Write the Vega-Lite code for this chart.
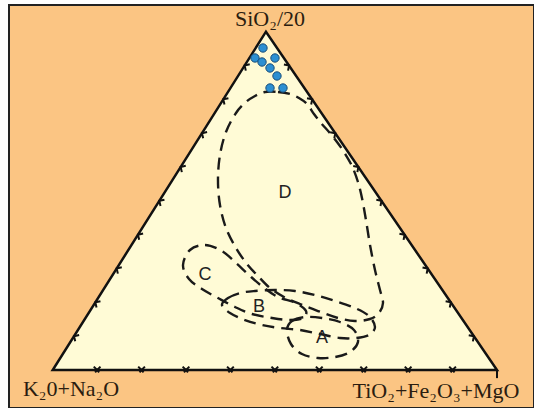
{
  "$schema": "https://vega.github.io/schema/vega-lite/v6.json",
  "width": 534,
  "height": 408,
  "autosize": {"type": "fit", "contains": "padding"},
  "padding": {"left": 9, "top": 5, "right": 0, "bottom": 0},
  "background": "#ffffff",
  "config": {"view": {"fill": "#FBC583", "stroke": "#222222", "strokeWidth": 2}},
  "datasets": {
    "tri": [
      {"x": 0, "y": 0, "i": 0},
      {"x": 100, "y": 0, "i": 1},
      {"x": 48, "y": 100, "i": 2}
    ],
    "corner": [{"x": 100, "y": 0, "yb": -2.4}],
    "fields": [
      {"shape": "D", "i": 0, "x": 47.78, "y": 82.18},
      {"shape": "D", "i": 1, "x": 50.71, "y": 82.18},
      {"shape": "D", "i": 2, "x": 53.41, "y": 81.59},
      {"shape": "D", "i": 3, "x": 55.43, "y": 80.40},
      {"shape": "D", "i": 4, "x": 57.24, "y": 78.63},
      {"shape": "D", "i": 5, "x": 58.81, "y": 75.67},
      {"shape": "D", "i": 6, "x": 60.39, "y": 73.01},
      {"shape": "D", "i": 7, "x": 62.19, "y": 70.35},
      {"shape": "D", "i": 8, "x": 63.99, "y": 67.40},
      {"shape": "D", "i": 9, "x": 65.56, "y": 64.44},
      {"shape": "D", "i": 10, "x": 67.36, "y": 60.30},
      {"shape": "D", "i": 11, "x": 68.71, "y": 55.57},
      {"shape": "D", "i": 12, "x": 69.61, "y": 50.84},
      {"shape": "D", "i": 13, "x": 70.51, "y": 44.34},
      {"shape": "D", "i": 14, "x": 71.42, "y": 36.95},
      {"shape": "D", "i": 15, "x": 72.54, "y": 29.56},
      {"shape": "D", "i": 16, "x": 73.67, "y": 23.65},
      {"shape": "D", "i": 17, "x": 74.34, "y": 19.81},
      {"shape": "D", "i": 18, "x": 73.44, "y": 16.85},
      {"shape": "D", "i": 19, "x": 71.42, "y": 15.08},
      {"shape": "D", "i": 20, "x": 68.04, "y": 14.48},
      {"shape": "D", "i": 21, "x": 64.21, "y": 15.37},
      {"shape": "D", "i": 22, "x": 59.71, "y": 17.44},
      {"shape": "D", "i": 23, "x": 55.66, "y": 19.51},
      {"shape": "D", "i": 24, "x": 52.06, "y": 21.58},
      {"shape": "D", "i": 25, "x": 48.91, "y": 24.24},
      {"shape": "D", "i": 26, "x": 46.21, "y": 27.79},
      {"shape": "D", "i": 27, "x": 43.73, "y": 31.33},
      {"shape": "D", "i": 28, "x": 41.26, "y": 36.06},
      {"shape": "D", "i": 29, "x": 39.00, "y": 41.98},
      {"shape": "D", "i": 30, "x": 37.65, "y": 48.77},
      {"shape": "D", "i": 31, "x": 37.20, "y": 56.16},
      {"shape": "D", "i": 32, "x": 37.65, "y": 63.55},
      {"shape": "D", "i": 33, "x": 39.00, "y": 70.35},
      {"shape": "D", "i": 34, "x": 41.26, "y": 75.97},
      {"shape": "D", "i": 35, "x": 43.51, "y": 79.22},
      {"shape": "D", "i": 36, "x": 45.53, "y": 81.00},
      {"shape": "C", "i": 0, "x": 30.90, "y": 35.47},
      {"shape": "C", "i": 1, "x": 34.28, "y": 36.95},
      {"shape": "C", "i": 2, "x": 38.10, "y": 35.18},
      {"shape": "C", "i": 3, "x": 41.26, "y": 31.63},
      {"shape": "C", "i": 4, "x": 44.18, "y": 28.08},
      {"shape": "C", "i": 5, "x": 47.33, "y": 24.53},
      {"shape": "C", "i": 6, "x": 50.71, "y": 21.58},
      {"shape": "C", "i": 7, "x": 54.76, "y": 19.81},
      {"shape": "C", "i": 8, "x": 57.01, "y": 17.44},
      {"shape": "C", "i": 9, "x": 56.34, "y": 15.37},
      {"shape": "C", "i": 10, "x": 53.41, "y": 14.78},
      {"shape": "C", "i": 11, "x": 49.36, "y": 15.37},
      {"shape": "C", "i": 12, "x": 44.86, "y": 16.55},
      {"shape": "C", "i": 13, "x": 41.03, "y": 18.62},
      {"shape": "C", "i": 14, "x": 37.20, "y": 21.28},
      {"shape": "C", "i": 15, "x": 33.60, "y": 23.94},
      {"shape": "C", "i": 16, "x": 30.68, "y": 26.90},
      {"shape": "C", "i": 17, "x": 29.33, "y": 31.04},
      {"shape": "B", "i": 0, "x": 38.10, "y": 19.21},
      {"shape": "B", "i": 1, "x": 39.46, "y": 21.28},
      {"shape": "B", "i": 2, "x": 42.16, "y": 22.76},
      {"shape": "B", "i": 3, "x": 45.53, "y": 23.35},
      {"shape": "B", "i": 4, "x": 50.03, "y": 23.65},
      {"shape": "B", "i": 5, "x": 54.53, "y": 23.35},
      {"shape": "B", "i": 6, "x": 59.04, "y": 22.17},
      {"shape": "B", "i": 7, "x": 63.54, "y": 20.40},
      {"shape": "B", "i": 8, "x": 68.04, "y": 18.33},
      {"shape": "B", "i": 9, "x": 71.19, "y": 15.96},
      {"shape": "B", "i": 10, "x": 72.54, "y": 12.71},
      {"shape": "B", "i": 11, "x": 71.19, "y": 10.35},
      {"shape": "B", "i": 12, "x": 68.26, "y": 9.46},
      {"shape": "B", "i": 13, "x": 64.66, "y": 9.46},
      {"shape": "B", "i": 14, "x": 60.16, "y": 10.64},
      {"shape": "B", "i": 15, "x": 55.66, "y": 11.82},
      {"shape": "B", "i": 16, "x": 51.16, "y": 12.42},
      {"shape": "B", "i": 17, "x": 47.11, "y": 13.30},
      {"shape": "B", "i": 18, "x": 43.28, "y": 14.78},
      {"shape": "B", "i": 19, "x": 39.91, "y": 16.85},
      {"shape": "A", "i": 0, "x": 52.73, "y": 11.82},
      {"shape": "A", "i": 1, "x": 53.86, "y": 14.48},
      {"shape": "A", "i": 2, "x": 56.79, "y": 15.67},
      {"shape": "A", "i": 3, "x": 60.61, "y": 15.37},
      {"shape": "A", "i": 4, "x": 64.66, "y": 14.19},
      {"shape": "A", "i": 5, "x": 67.81, "y": 11.82},
      {"shape": "A", "i": 6, "x": 68.71, "y": 8.28},
      {"shape": "A", "i": 7, "x": 66.91, "y": 5.32},
      {"shape": "A", "i": 8, "x": 63.54, "y": 3.84},
      {"shape": "A", "i": 9, "x": 59.71, "y": 3.55},
      {"shape": "A", "i": 10, "x": 56.11, "y": 4.73},
      {"shape": "A", "i": 11, "x": 53.63, "y": 7.69}
    ],
    "samples": [
      {"x": 47.33, "y": 95.18},
      {"x": 45.53, "y": 92.23},
      {"x": 47.11, "y": 91.04},
      {"x": 50.03, "y": 92.23},
      {"x": 48.91, "y": 89.27},
      {"x": 50.48, "y": 86.91},
      {"x": 48.91, "y": 83.36},
      {"x": 51.83, "y": 83.36}
    ],
    "baseTicks": [
      {"x": 10, "y": 0}, {"x": 20, "y": 0}, {"x": 30, "y": 0},
      {"x": 40, "y": 0}, {"x": 50, "y": 0}, {"x": 60, "y": 0},
      {"x": 70, "y": 0}, {"x": 80, "y": 0}, {"x": 90, "y": 0}
    ],
    "leftTicks": [
      {"x": 4.8, "y": 10}, {"x": 9.6, "y": 20}, {"x": 14.4, "y": 30},
      {"x": 19.2, "y": 40}, {"x": 24.0, "y": 50}, {"x": 28.8, "y": 60},
      {"x": 33.6, "y": 70}, {"x": 38.4, "y": 80}, {"x": 43.2, "y": 90}
    ],
    "rightTicks": [
      {"x": 94.8, "y": 10}, {"x": 89.6, "y": 20}, {"x": 84.4, "y": 30},
      {"x": 79.2, "y": 40}, {"x": 74.0, "y": 50}, {"x": 68.8, "y": 60},
      {"x": 63.6, "y": 70}, {"x": 58.4, "y": 80}, {"x": 53.2, "y": 90}
    ],
    "regionLabels": [
      {"x": 52.28, "y": 52.32, "label": "D"},
      {"x": 34.28, "y": 28.08, "label": "C"},
      {"x": 46.46, "y": 18.62, "label": "B"},
      {"x": 60.61, "y": 9.46, "label": "A"}
    ],
    "apexLabels": [
      {"x": 48.91, "y": 103.76, "label": "SiO₂/20"},
      {"x": 4.12, "y": -5.62, "label": "K₂0+Na₂O"},
      {"x": 86.27, "y": -6.21, "label": "TiO₂+Fe₂O₃+MgO"}
    ]
  },
  "encoding": {
    "x": {"field": "x", "type": "quantitative", "scale": {"domain": [-9.836, 108.33], "nice": false, "zero": false}, "axis": null},
    "y": {"field": "y", "type": "quantitative", "scale": {"domain": [-11.23, 107.89], "nice": false, "zero": false}, "axis": null}
  },
  "layer": [
    {
      "data": {"name": "tri"},
      "mark": {"type": "area", "color": "#FFFBD6", "interpolate": "linear"},
      "encoding": {"y2": {"datum": 0}}
    },
    {
      "data": {"name": "tri"},
      "mark": {"type": "line", "interpolate": "linear-closed", "color": "#111111", "strokeWidth": 2.5, "strokeJoin": "miter"},
      "encoding": {"order": {"field": "i", "type": "quantitative"}}
    },
    {
      "data": {"name": "corner"},
      "mark": {"type": "rule", "color": "#111111", "strokeWidth": 2},
      "encoding": {"y2": {"field": "yb"}}
    },
    {
      "data": {"name": "baseTicks"},
      "mark": {"type": "point", "shape": "M-1,-1L0,0L1,-1M-0.6,0.7L0,0L0.6,0.7", "filled": false, "stroke": "#111111", "strokeWidth": 2, "size": 45, "opacity": 1}
    },
    {
      "data": {"name": "leftTicks"},
      "mark": {"type": "point", "shape": "M1,-1L0,0L1,1", "filled": false, "stroke": "#111111", "strokeWidth": 2, "size": 55, "angle": 32, "opacity": 1}
    },
    {
      "data": {"name": "rightTicks"},
      "mark": {"type": "point", "shape": "M-1,-1L0,0L-1,1", "filled": false, "stroke": "#111111", "strokeWidth": 2, "size": 55, "angle": -34, "opacity": 1}
    },
    {
      "data": {"name": "fields"},
      "mark": {"type": "line", "interpolate": "cardinal-closed", "color": "#1a1a1a", "strokeWidth": 2.4, "strokeDash": [12, 7]},
      "encoding": {
        "detail": {"field": "shape", "type": "nominal"},
        "order": {"field": "i", "type": "quantitative"}
      }
    },
    {
      "data": {"name": "samples"},
      "mark": {"type": "point", "shape": "circle", "filled": true, "fill": "#2C8FD2", "stroke": "#1B4E78", "strokeWidth": 1, "size": 70, "opacity": 1}
    },
    {
      "data": {"name": "regionLabels"},
      "mark": {"type": "text", "font": "Liberation Sans", "fontSize": 18, "color": "#222222", "align": "center", "baseline": "middle"},
      "encoding": {"text": {"field": "label"}}
    },
    {
      "data": {"name": "apexLabels"},
      "mark": {"type": "text", "font": "Liberation Serif", "fontSize": 22, "color": "#2b1d10", "align": "center", "baseline": "middle"},
      "encoding": {"text": {"field": "label"}}
    }
  ]
}
